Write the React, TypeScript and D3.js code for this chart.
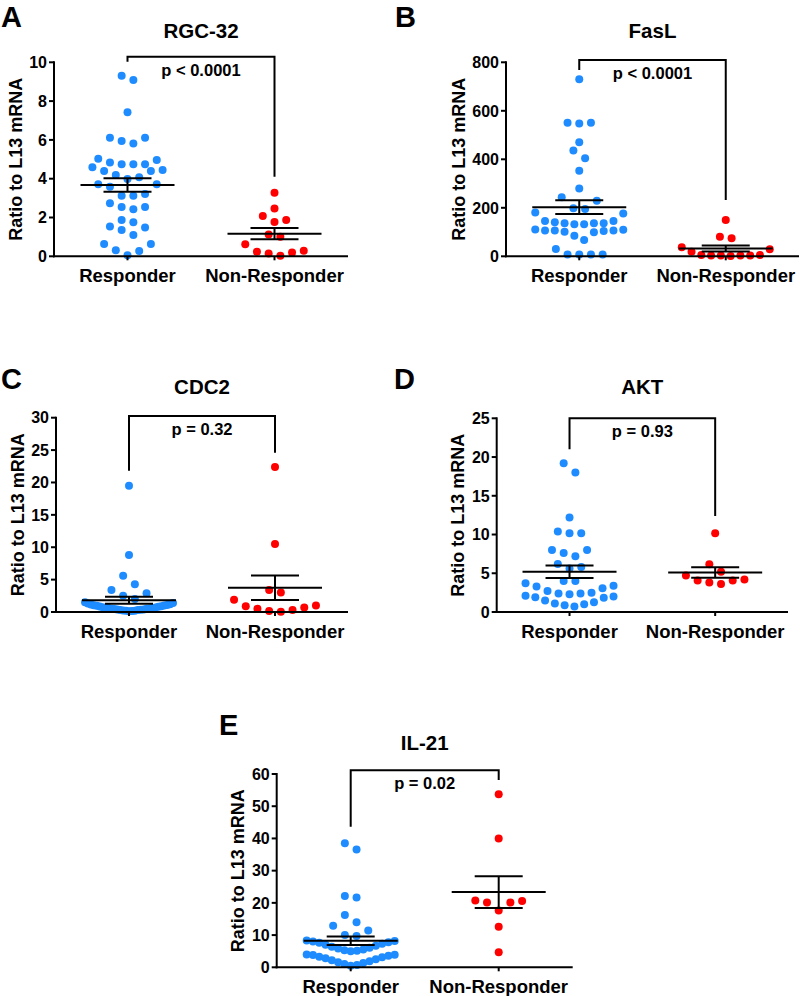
import React from "react";
import * as d3 from "d3";

// ---------- data ----------
const categories = ["Responder", "Non-Responder"];
const panelLetters = ["A", "B", "C", "D", "E"];
const titles = ["RGC-32", "FasL", "CDC2", "AKT", "IL-21"];
const pLabels = ["p < 0.0001", "p < 0.0001", "p = 0.32", "p = 0.93", "p = 0.02"];
const yMaxes = [10, 800, 30, 25, 60];
const yTickSteps = [2, 200, 5, 5, 10];
const yLabel = "Ratio to L13 mRNA";
// bracket: top value and leg end values (data units)
const bracketTops = [10.29, 809, 30.26, 25, 61.2];
const bracketLegEnds = [
  [10.03, 4.1],
  [768, 232],
  [21.8, 24.6],
  [21.0, 12.4],
  [43.6, 58.1],
];

const rgc32Responder = [
  9.31, 9.09, 7.42, 6.11, 5.94, 5.82, 6.11, 4.96, 4.74, 4.74, 4.74, 4.83, 5.03,
  4.45, 4.4, 4.4, 4.59, 4.07, 4.19, 3.98, 3.71, 3.59, 3.71, 3.21, 3.12, 3.12,
  2.73, 2.54, 2.54, 2.42, 1.75, 1.53, 1.87, 1.36, 1.49, 1.1, 0.63, 0.63, 0.31,
  0.27, 0.05,
];
const rgc32NonResponder = [
  3.28, 2.47, 2.08, 1.77, 1.87, 1.13, 1.01, 0.62, 0.29, 0.19, 0.03, 0.15, 0.24,
];

const faslResponder = [
  730, 551, 548, 551, 470, 436, 404, 353, 280, 243, 229, 195, 198, 177, 181,
  140, 136, 132, 146, 132, 136, 136, 146, 111, 106, 106, 101, 99, 104, 106, 110,
  85, 67, 30, 7, 7, 7, 7,
];
const faslNonResponder = [150, 81, 74, 29, 37, 19, 5, 3, 3, 1, 3, 3, 5];

const cdc2Responder = [
  19.5, 8.8, 5.6, 4.3, 3.4, 2.9, 2.5, 2.0, 0.1, 0.15, 0.2, 0.2, 0.25, 0.3, 0.3,
  0.35, 0.4, 0.4, 0.45, 0.5, 0.5, 0.55, 0.6, 0.6, 0.65, 0.7, 0.75, 0.8, 0.85,
  0.9, 0.95, 1.0, 1.05, 1.1, 1.15, 1.2, 1.3, 1.4, 1.5,
];
const cdc2NonResponder = [22.4, 10.5, 3.4, 3.0, 1.9, 1.0, 0.7, 0.3, 0.05, 0.15, 0.5, 0.9];

const aktResponder = [
  19.2, 18.0, 12.2, 10.15, 10.15, 10.4, 8.0, 8.0, 7.6, 7.2, 5.8, 6.2, 5.6, 4.0,
  4.0, 3.4, 3.05, 2.5, 2.4, 2.3, 2.4, 2.7, 3.3, 3.7, 2.0, 1.85, 1.25, 1.0, 0.7,
  0.86, 1.1, 1.5, 1.9, 2.1,
];
const aktNonResponder = [10.15, 6.15, 5.2, 4.2, 4.05, 3.6, 3.8, 4.05, 4.7];

const il21Responder = [
  38.5, 36.6, 22.1, 21.7, 16.2, 14.0, 12.9, 11.4, 10.0, 9.7,
  5.0, 5.1, 5.3, 5.5, 5.8, 6.1, 6.4, 6.7, 7.0, 7.3, 7.6, 7.8, 8.0, 8.2, 8.3,
  0.5, 0.7, 1.0, 1.3, 1.6, 1.9, 2.2, 2.5, 2.8, 3.1, 3.3, 3.6, 3.8, 3.9, 4.0,
];
const il21NonResponder = [53.7, 40.0, 20.7, 20.1, 20.1, 20.6, 17.6, 12.6, 4.7];

const seriesByPanel = [
  [rgc32Responder, rgc32NonResponder],
  [faslResponder, faslNonResponder],
  [cdc2Responder, cdc2NonResponder],
  [aktResponder, aktNonResponder],
  [il21Responder, il21NonResponder],
];

// ---------- layout (not data) ----------
const frames = [
  { x0: 54, x1: 348, yTop: 62.3, yBot: 256.3, lx: 1, ly: 27 },
  { x0: 506, x1: 799, yTop: 62.3, yBot: 256.3, lx: 395, ly: 27 },
  { x0: 56, x1: 348, yTop: 417.7, yBot: 612, lx: 1, ly: 388.5 },
  { x0: 496.7, x1: 788, yTop: 418.3, yBot: 612, lx: 394, ly: 388.5 },
  { x0: 276.7, x1: 572.7, yTop: 774, yBot: 967.3, lx: 219, ly: 735 },
];
const colors = ["#1e8cff", "#ff0000"];
const FONT = "'Liberation Sans', Arial, Helvetica, sans-serif";
const R = 4;

function swarm(values: number[], y: (v: number) => number, cx: number) {
  const pts = values.map((v) => ({ v, py: y(v), px: cx })).sort((a, b) => a.v - b.v);
  const rows: { start: number; pts: typeof pts }[] = [];
  let cur: any = null;
  const H = 12;
  for (const p of pts) {
    if (!cur || cur.start - p.py >= H) {
      cur = { start: p.py, pts: [] };
      rows.push(cur);
    }
    cur.pts.push(p);
  }
  for (const row of rows) {
    const n = row.pts.length;
    const sp = n > 1 ? Math.min(11.7, 88 / (n - 1)) : 0;
    row.pts.forEach((p, i) => {
      let off;
      if (n % 2 === 1) {
        const k = Math.ceil(i / 2);
        off = i % 2 === 1 ? k : -k;
      } else {
        const k = Math.floor(i / 2) + 0.5;
        off = i % 2 === 0 ? k : -k;
      }
      p.px = cx + off * sp;
    });
  }
  return pts;
}

function Panel({ idx }: { idx: number }) {
  const f = frames[idx];
  const yMax = yMaxes[idx];
  const step = yTickSteps[idx];
  const y = d3.scaleLinear().domain([0, yMax]).range([f.yBot, f.yTop]);
  const x = d3.scalePoint<string>().domain(categories).range([f.x0, f.x1]).padding(0.5);
  const ticks = d3.range(0, yMax + step / 2, step);
  const maxLen = d3.max(ticks, (t) => String(t).length) as number;
  const labelOffset = 5 + 2 + maxLen * 0.556 * 16 + 7.5;
  const series = seriesByPanel[idx];
  const xr = x(categories[0]) as number;
  const xn = x(categories[1]) as number;
  const bt = y(bracketTops[idx]);
  const legs = bracketLegEnds[idx];

  return (
    <g>
      <text x={f.lx} y={f.ly} fontFamily={FONT} fontWeight="bold" fontSize={29}>
        {panelLetters[idx]}
      </text>
      <text
        x={(f.x0 + f.x1) / 2}
        y={f.yTop - 24}
        textAnchor="middle"
        fontFamily={FONT}
        fontWeight="bold"
        fontSize={20.5}
      >
        {titles[idx]}
      </text>
      {/* points */}
      {series.map((vals, si) => {
        const cx = x(categories[si]) as number;
        return swarm(vals, y, cx).map((p, i) => (
          <circle key={`${si}-${i}`} cx={p.px} cy={p.py} r={R} fill={colors[si]} />
        ));
      })}
      {/* mean and SEM */}
      {series.map((vals, si) => {
        const cx = x(categories[si]) as number;
        const m = d3.mean(vals) as number;
        const sem = (d3.deviation(vals) as number) / Math.sqrt(vals.length);
        return (
          <g key={`e${si}`} stroke="#000" strokeWidth={2}>
            <line x1={cx - 47} x2={cx + 47} y1={y(m)} y2={y(m)} />
            <line x1={cx - 24} x2={cx + 24} y1={y(m + sem)} y2={y(m + sem)} />
            <line x1={cx - 24} x2={cx + 24} y1={y(m - sem)} y2={y(m - sem)} />
            <line x1={cx} x2={cx} y1={y(m + sem)} y2={y(m - sem)} />
          </g>
        );
      })}
      {/* axes */}
      <g stroke="#000" strokeWidth={2} fill="none">
        <line x1={f.x0} x2={f.x0} y1={f.yTop - 1} y2={f.yBot + 1} />
        <line x1={f.x0 - 1} x2={f.x1} y1={f.yBot} y2={f.yBot} />
        {ticks.map((t) => (
          <line key={t} x1={f.x0 - 5} x2={f.x0} y1={y(t)} y2={y(t)} />
        ))}
        {categories.map((c) => (
          <line key={c} x1={x(c) as number} x2={x(c) as number} y1={f.yBot} y2={f.yBot + 4} />
        ))}
      </g>
      {ticks.map((t) => (
        <text
          key={t}
          x={f.x0 - 7}
          y={y(t)}
          dy="0.36em"
          textAnchor="end"
          fontFamily={FONT}
          fontWeight="bold"
          fontSize={16}
        >
          {t}
        </text>
      ))}
      <text
        transform={`translate(${f.x0 - labelOffset},${(f.yTop + f.yBot) / 2}) rotate(-90)`}
        textAnchor="middle"
        fontFamily={FONT}
        fontWeight="bold"
        fontSize={18}
      >
        {yLabel}
      </text>
      {categories.map((c) => (
        <text
          key={c}
          x={x(c) as number}
          y={f.yBot + 25.5}
          textAnchor="middle"
          fontFamily={FONT}
          fontWeight="bold"
          fontSize={18.5}
        >
          {c}
        </text>
      ))}
      {/* bracket */}
      <path
        d={`M${xr},${y(legs[0])}V${bt}H${xn}V${y(legs[1])}`}
        fill="none"
        stroke="#000"
        strokeWidth={2}
      />
      <text
        x={(xr + xn) / 2}
        y={bt + 19}
        textAnchor="middle"
        fontFamily={FONT}
        fontWeight="bold"
        fontSize={16.5}
      >
        {pLabels[idx]}
      </text>
    </g>
  );
}

export default function App() {
  return (
    <svg
      width={800}
      height={996}
      style={{ position: "absolute", left: 0, top: 0, background: "#fff" }}
    >
      <rect width={800} height={996} fill="#fff" />
      {panelLetters.map((_, i) => (
        <Panel key={i} idx={i} />
      ))}
    </svg>
  );
}
